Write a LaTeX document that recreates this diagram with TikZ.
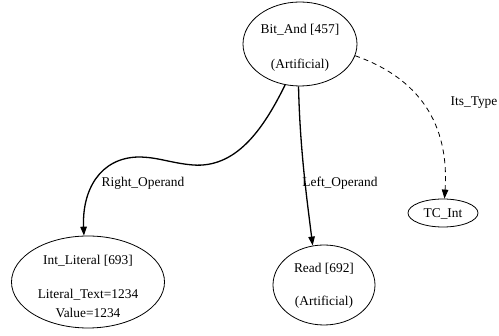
\documentclass[tikz,border=0pt]{standalone}
\usepackage{fontspec}
\setmainfont{Liberation Serif}
\usetikzlibrary{arrows.meta,shapes.geometric}
\begin{document}
\begin{tikzpicture}[x=1pt,y=-1pt,
  every node/.style={font=\fontsize{13.4}{16}\selectfont},
  nd/.style={draw,ellipse,line width=0.8pt,inner sep=0pt},
  lbl/.style={inner sep=0pt},
  edge/.style={line width=1.3pt,-{Triangle[length=9pt,width=6.5pt]}},
  dedge/.style={line width=0.8pt,dash pattern=on 5pt off 4pt,-{Triangle[length=9pt,width=6.5pt]}}]
\useasboundingbox (0,0) rectangle (499,336);
\node[nd,minimum width=114pt,minimum height=84pt] (ba) at (300,44) {};
\node[lbl] (bat1) at (300,30) {Bit\_And [457]};
\node[lbl] (bat2) at (300,65) {(Artificial)};
\node[nd,minimum width=153pt,minimum height=92pt] (il) at (88,282) {};
\node[lbl] (ilt1) at (88,261) {Int\_Literal [693]};
\node[lbl] (ilt2) at (88,295) {Literal\_Text=1234};
\node[lbl] (ilt3) at (88,313) {Value=1234};
\node[nd,minimum width=102pt,minimum height=80pt] (rd) at (324,285) {};
\node[lbl] (rdt1) at (324,269) {Read [692]};
\node[lbl] (rdt2) at (324,302) {(Artificial)};
\node[nd,minimum width=70pt,minimum height=28pt] (tc) at (443,213) {};
\node[lbl] (tct) at (443,214) {TC\_Int};
\draw[edge] (ba.250) .. controls (262,132) and (235,168) .. (193,165)
  .. controls (170,163) and (158,157) .. (138,157)
  .. controls (100,158) and (82,190) .. (il.95);
\draw[edge] (ba.268) .. controls (300,150) and (307,200) .. (rd.106);
\draw[dedge] (ba.348) .. controls (410,75) and (450,115) .. (tc.84);
\node[lbl] (l1) at (143,183) {Right\_Operand};
\node[lbl] (l2) at (340,183) {Left\_Operand};
\node[lbl] (l3) at (474,103) {Its\_Type};
\end{tikzpicture}
\end{document}
